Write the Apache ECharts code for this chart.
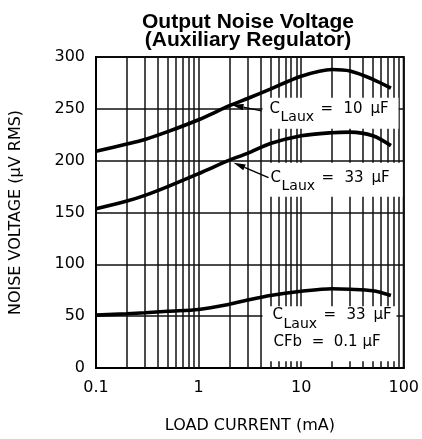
<!DOCTYPE html>
<html>
<head>
<meta charset="utf-8">
<script src="https://cdn.jsdelivr.net/npm/echarts@6/dist/echarts.min.js"></script>
<style>html,body{margin:0;padding:0;background:#fff}#c{width:422px;height:439px}</style>
</head>
<body>
<div id="c"></div>
<script>
// ---- data ----
const currents   = [0.1, 0.2, 0.3, 0.5, 1, 2, 3, 5, 10, 20, 30, 50, 75];
const noise10uF  = [209, 216, 220.5, 228, 239.5, 253, 260, 269, 281.5, 288, 286.5, 278.5, 270];
const noise33uF  = [153.5, 161, 166.5, 175, 187.5, 200.5, 207, 216.5, 224, 227, 227.5, 224, 214.5];
const noise33fb  = [51, 52.3, 53.3, 54.8, 56.5, 61.5, 65.5, 70, 74, 76.5, 76, 74.5, 70];
const yTicks     = [0, 50, 100, 150, 200, 250, 300];
const xTickLabels = ['0.1', '1', '10', '100'];
const minorGrid  = [0.2,0.3,0.4,0.5,0.6,0.7,0.8,0.9, 2,3,4,5,6,7,8,9, 20,30,40,50,60,70,80,90];

const FONT = 'DejaVu Sans';
const chart = echarts.init(document.getElementById('c'), null, {renderer: 'canvas'});

function pairs(ys){ return currents.map((x,i)=>[x, ys[i]]); }

const curveStyle = {type:'line', smooth:0.3, symbol:'none', z:10,
  lineStyle:{color:'#000', width:3.6}, silent:true};

chart.setOption({
  animation:false,
  backgroundColor:'#fff',
  title:[
    {text:'Output Noise Voltage', left:243, top:7, textAlign:'center',
     textStyle:{fontFamily:'Liberation Sans', fontWeight:'bold', fontSize:21, color:'#000'}},
    {text:'(Auxiliary Regulator)', left:243, top:25, textAlign:'center',
     textStyle:{fontFamily:'Liberation Sans', fontWeight:'bold', fontSize:21, color:'#000'}}
  ],
  grid:{left:96, right:16, top:57, bottom:71, show:true, borderColor:'#000', borderWidth:2, backgroundColor:'transparent'},
  xAxis:{type:'log', logBase:10, min:0.1, max:100,
    name:'LOAD CURRENT (mA)', nameLocation:'middle', nameGap:50,
    nameTextStyle:{fontFamily:FONT, fontSize:16, color:'#000'},
    axisLine:{show:true, lineStyle:{color:'#000', width:2}},
    axisTick:{show:false},
    axisLabel:{fontFamily:FONT, fontSize:16, color:'#000', margin:12,
      formatter:function(v){ const i = Math.round(Math.log10(v))+1; return xTickLabels[i] || ''; }},
    splitLine:{show:true, lineStyle:{color:'#111', width:1.5}}
  },
  yAxis:{type:'value', min:yTicks[0], max:yTicks[yTicks.length-1], interval:yTicks[1]-yTicks[0],
    name:'NOISE VOLTAGE (μV RMS)', nameLocation:'middle', nameGap:72, nameRotate:90,
    nameTextStyle:{fontFamily:FONT, fontSize:16, color:'#000'},
    axisLine:{show:true, lineStyle:{color:'#000', width:2}},
    axisTick:{show:false},
    axisLabel:{fontFamily:FONT, fontSize:16, color:'#000', margin:11},
    splitLine:{show:true, lineStyle:{color:'#111', width:1.5}}
  },
  series:[
    {type:'line', data:[], silent:true, z:1,
     markLine:{silent:true, symbol:'none', animation:false, z:1,
       label:{show:false}, lineStyle:{color:'#111', width:1.5, type:'solid'},
       data:minorGrid.map(v=>({xAxis:v}))}},
    Object.assign({name:'C_Laux = 10 μF', data:pairs(noise10uF)}, curveStyle),
    Object.assign({name:'C_Laux = 33 μF', data:pairs(noise33uF)}, curveStyle),
    Object.assign({name:'C_Laux = 33 μF, CFb = 0.1 μF', data:pairs(noise33fb)}, curveStyle)
  ]
});

// ---- annotations (positioned from data coordinates) ----
function px(x,y){ return chart.convertToPixel({gridIndex:0}, [x,y]); }
const LF = {fontFamily:FONT, fontSize:14, fill:'#000'};
function txt(x,y,s,size){ return {type:'text', x:x, y:y, z:20,
  style:Object.assign({}, LF, {text:s, fontSize:size||14, verticalAlign:'middle', align:'left'})}; }
function box(x,y,w,h){ return {type:'rect', z:15, shape:{x:x,y:y,width:w,height:h}, style:{fill:'#fff'}}; }
function arrow(x1,y1,x2,y2){
  const dx=x2-x1, dy=y2-y1, L=Math.hypot(dx,dy), ux=dx/L, uy=dy/L;
  const hl=12, hw=3.2;
  const bx=x2-ux*hl, by=y2-uy*hl;
  return [
    {type:'line', z:20, shape:{x1:x1,y1:y1,x2:bx,y2:by}, style:{stroke:'#000', lineWidth:1.4}},
    {type:'polygon', z:20, shape:{points:[[x2,y2],[bx-uy*hw,by+ux*hw],[bx+uy*hw,by-ux*hw]]}, style:{fill:'#000'}}
  ];
}
function label(ax,ay,dy,value){
  return [
    txt(ax+7, ay+dy, 'C', 15),
    txt(ax+18, ay+dy+9, 'Laux', 14),
    txt(ax+58, ay+dy, '=', 15),
    txt(ax+81, ay+dy, value, 15),
    txt(ax+108, ay+dy, 'μF', 15)
  ];
}
const a1 = px(4.2, 250), a2 = px(4.2, 200), a3 = px(4.2, 50);
let g = [];
g.push(box(a1[0], a1[1]-11, 136, 31));
g = g.concat(label(a1[0], a1[1], 0, '10'));
g = g.concat(arrow(a1[0]-1, a1[1]+2, a1[0]-31, a1[1]-4));
g.push(box(a2[0], a2[1]+2, 140, 34));
g = g.concat(label(a2[0]+1, a2[1], 17, '33'));
g = g.concat(arrow(a2[0]+6, a2[1]+17, a2[0]-29, a2[1]+2));
g.push(box(a3[0], a3[1]-10, 134, 55));
g = g.concat(label(a3[0]+3, a3[1], -1, '33'));
g.push(txt(a3[0]+11, a3[1]+26, 'CFb  =  0.1 μF', 15));
chart.setOption({graphic:g});
</script>
</body>
</html>
